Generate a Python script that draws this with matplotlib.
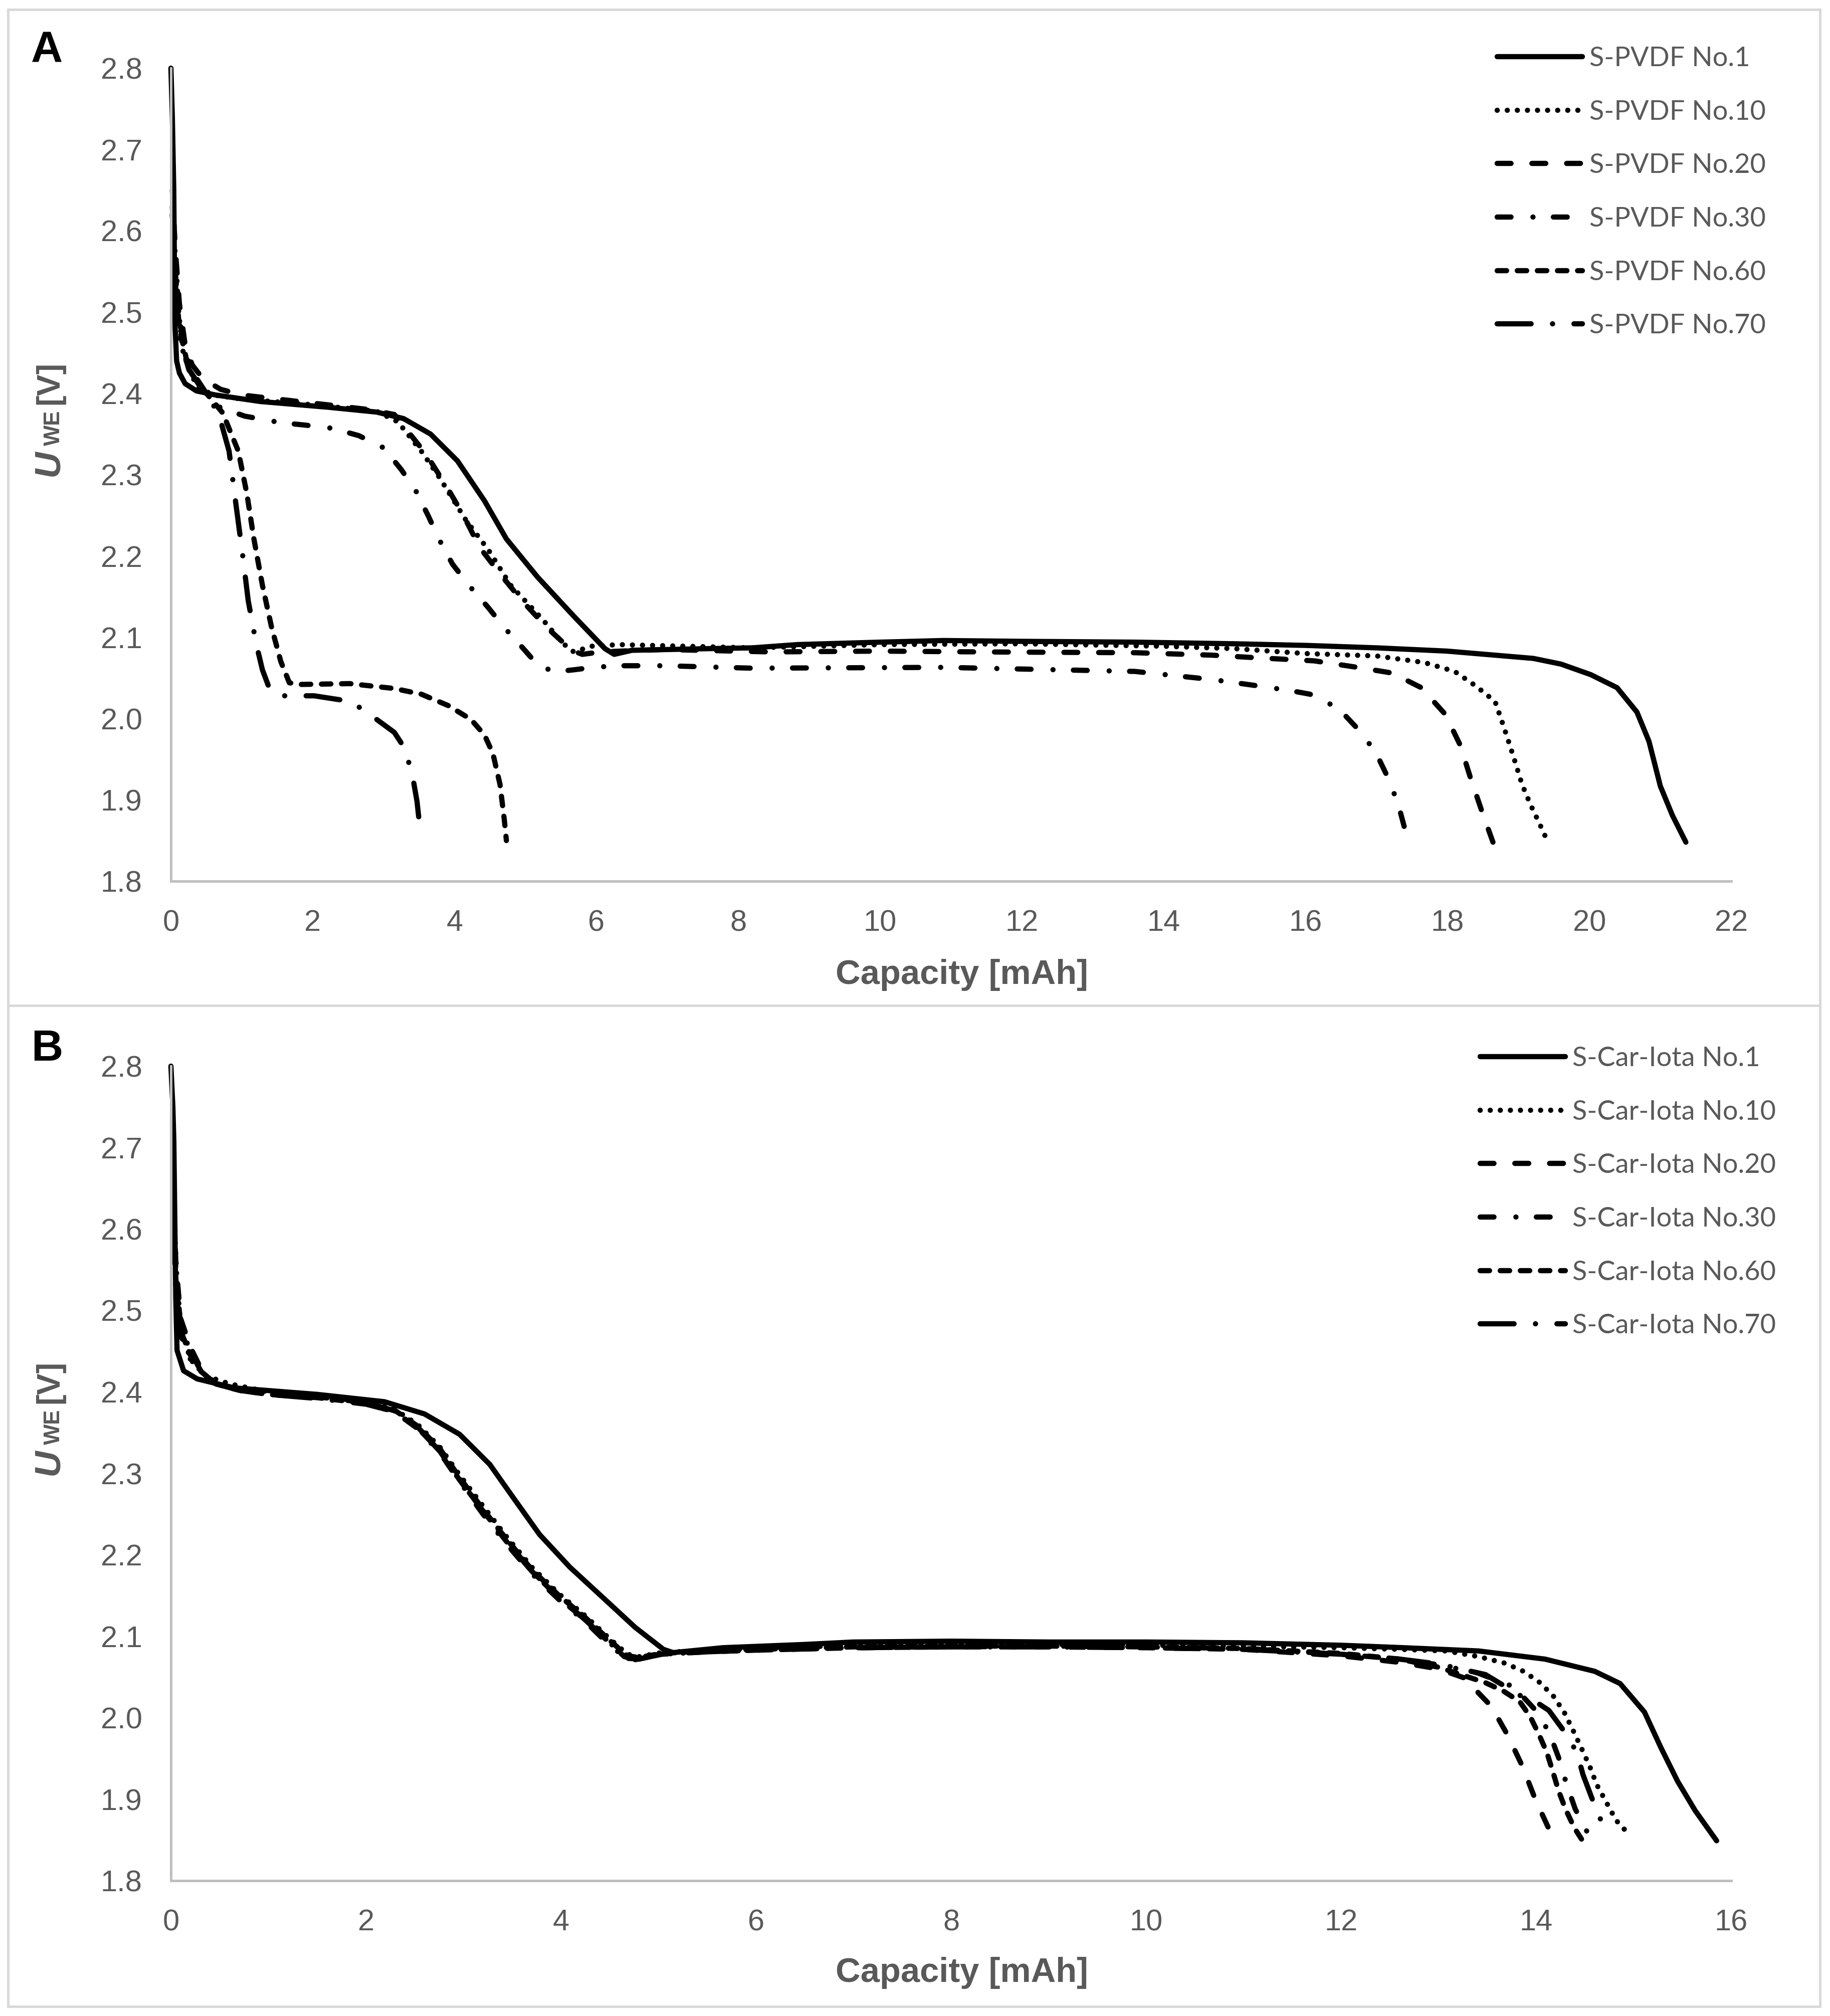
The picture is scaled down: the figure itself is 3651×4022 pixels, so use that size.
#!/usr/bin/env python3
# Discharge curves (U_WE vs capacity) for S-PVDF and S-Car-Iota cells, two panels.

import matplotlib
matplotlib.use("Agg")
import matplotlib.pyplot as plt
from matplotlib.patches import Rectangle

W_PX, H_PX, DPI = 3651, 4022, 300

GRAY_TXT = "#595959"
GRAY_AXIS = "#bfbfbf"
GRAY_BOX = "#d9d9d9"

CYCLES = ["No.1", "No.10", "No.20", "No.30", "No.60", "No.70"]
X_TICKS_A = [0, 2, 4, 6, 8, 10, 12, 14, 16, 18, 20, 22]
X_TICKS_B = [0, 2, 4, 6, 8, 10, 12, 14, 16]
Y_TICKS = [1.8, 1.9, 2.0, 2.1, 2.2, 2.3, 2.4, 2.5, 2.6, 2.7, 2.8]

# ---- panel A : S-PVDF ----
a1_cap = [0, 0.02, 0.04, 0.05, 0.06, 0.08, 0.12, 0.2, 0.36, 0.63, 1.26, 2.21, 2.9, 3.28,
          3.66, 4.04, 4.42, 4.73, 5.17, 5.68, 6.12, 6.25, 6.5, 7.57, 8.2, 8.83, 10.0, 10.89,
          12.0, 13.6, 15.0, 16.0, 17.0, 17.99, 19.21, 19.6, 20.02, 20.39, 20.67, 20.84, 21.0,
          21.17, 21.36]
a1_volt = [2.80, 2.74, 2.65, 2.55, 2.48, 2.44, 2.425, 2.412, 2.403, 2.398, 2.39, 2.383, 2.377,
           2.369, 2.35, 2.317, 2.268, 2.221, 2.174, 2.126, 2.086, 2.079, 2.084, 2.086, 2.087,
           2.091, 2.094, 2.096, 2.095, 2.094, 2.092, 2.09, 2.087, 2.083, 2.074, 2.067, 2.054,
           2.038, 2.008, 1.972, 1.917, 1.881, 1.848]

a10_cap = [0.03, 0.07, 0.11, 0.17, 0.27, 0.39, 0.6, 1.0, 2.0, 2.9, 3.2, 3.53, 3.79, 4.16, 4.48,
           4.79, 5.24, 5.52, 5.68, 5.93, 6.31, 8.2, 10.0, 12.0, 14.0, 15.0, 16.0, 17.0, 17.67,
           18.1, 18.4, 18.67, 18.8, 18.93, 19.05, 19.17, 19.29, 19.4]
a10_volt = [2.60, 2.563, 2.498, 2.452, 2.425, 2.407, 2.398, 2.393, 2.386, 2.378, 2.365, 2.329,
            2.296, 2.244, 2.207, 2.164, 2.122, 2.093, 2.082, 2.089, 2.091, 2.087, 2.091, 2.092,
            2.089, 2.086, 2.080, 2.077, 2.069, 2.058, 2.04, 2.021, 1.988, 1.953, 1.919, 1.894,
            1.872, 1.851]

a20_cap = [0.02, 0.06, 0.12, 0.2, 0.3, 0.45, 0.7, 1.0, 2.0, 2.8, 3.15, 3.6, 3.91, 4.13, 4.35,
           4.64, 4.95, 5.3, 5.65, 5.8, 6.06, 6.94, 8.46, 10.0, 11.43, 13.6, 14.68, 15.27, 16.12,
           16.73, 17.22, 17.63, 17.97, 18.18, 18.32, 18.48, 18.64]
a20_volt = [2.65, 2.58, 2.51, 2.46, 2.435, 2.418, 2.405, 2.398, 2.388, 2.38, 2.374, 2.325, 2.282,
            2.249, 2.211, 2.178, 2.145, 2.112, 2.084, 2.079, 2.082, 2.085, 2.082, 2.083, 2.082,
            2.081, 2.078, 2.075, 2.071, 2.063, 2.056, 2.038, 2.005, 1.967, 1.928, 1.887, 1.848]

a30_cap = [0.02, 0.06, 0.12, 0.2, 0.35, 0.5, 0.69, 1.04, 1.55, 1.89, 2.28, 2.65, 3.0, 3.25, 3.46,
           3.63, 3.79, 3.97, 4.21, 4.47, 4.7, 4.97, 5.2, 5.46, 5.68, 5.95, 6.31, 6.97, 8.19,
           10.89, 12.51, 13.59, 14.68, 15.43, 15.81, 16.06, 16.27, 16.5, 16.77, 16.99, 17.15,
           17.3, 17.42]
a30_volt = [2.62, 2.55, 2.49, 2.45, 2.42, 2.40, 2.383, 2.372, 2.364, 2.361, 2.357, 2.348, 2.333,
            2.306, 2.279, 2.249, 2.219, 2.19, 2.163, 2.137, 2.112, 2.086, 2.063, 2.058, 2.06,
            2.063, 2.065, 2.065, 2.062, 2.063, 2.06, 2.058, 2.048, 2.039, 2.034, 2.030, 2.022,
            2.009, 1.984, 1.958, 1.929, 1.896, 1.857]

a60_cap = [0.02, 0.05, 0.12, 0.25, 0.4, 0.55, 0.73, 0.95, 1.07, 1.17, 1.29, 1.42, 1.55, 1.67,
           1.83, 2.52, 3.15, 3.53, 3.91, 4.23, 4.42, 4.54, 4.64, 4.7, 4.73]
a60_volt = [2.62, 2.55, 2.48, 2.43, 2.41, 2.395, 2.376, 2.329, 2.277, 2.221, 2.164, 2.112, 2.07,
            2.044, 2.042, 2.043, 2.037, 2.03, 2.016, 1.999, 1.98, 1.957, 1.919, 1.876, 1.85]

a70_cap = [0.02, 0.05, 0.12, 0.25, 0.4, 0.55, 0.66, 0.82, 0.91, 1.01, 1.09, 1.2, 1.29, 1.38,
           1.51, 2.02, 2.54, 2.9, 3.15, 3.3, 3.41, 3.47, 3.5]
a70_volt = [2.63, 2.55, 2.47, 2.43, 2.41, 2.39, 2.379, 2.329, 2.268, 2.202, 2.145, 2.093, 2.06,
            2.039, 2.028, 2.028, 2.021, 1.999, 1.983, 1.963, 1.928, 1.898, 1.874]

# ---- panel B : S-Car-Iota ----
b1_cap = [0, 0.02, 0.03, 0.05, 0.063, 0.13, 0.27, 0.65, 1.5, 2.19, 2.6, 2.96, 3.27, 3.5, 3.78,
          4.09, 4.48, 4.76, 5.05, 5.15, 5.66, 6.5, 7.0, 8.0, 9.0, 10.0, 11.0, 12.0, 12.64,
          13.41, 14.09, 14.6, 14.86, 15.11, 15.28, 15.45, 15.63, 15.85]
b1_volt = [2.80, 2.75, 2.707, 2.514, 2.451, 2.426, 2.416, 2.405, 2.397, 2.388, 2.373, 2.348,
           2.311, 2.272, 2.225, 2.185, 2.142, 2.111, 2.084, 2.08, 2.086, 2.09, 2.093, 2.094,
           2.093, 2.093, 2.092, 2.089, 2.086, 2.082, 2.072, 2.057, 2.042, 2.007, 1.963, 1.922,
           1.886, 1.849]

b10_cap = [0.03, 0.06, 0.1, 0.2, 0.35, 0.6, 1.0, 1.5, 2.0, 2.29, 2.53, 2.76, 2.96, 3.2, 3.43,
           3.7, 3.98, 4.25, 4.49, 4.68, 4.8, 5.03, 5.5, 6.0, 7.0, 8.0, 9.0, 10.0, 11.0, 12.0,
           12.6, 13.08, 13.41, 13.68, 13.87, 14.04, 14.18, 14.29, 14.38, 14.47, 14.55, 14.62,
           14.72, 14.82, 14.95]
b10_volt = [2.62, 2.54, 2.48, 2.44, 2.42, 2.41, 2.40, 2.395, 2.388, 2.379, 2.36, 2.332, 2.298,
            2.26, 2.224, 2.185, 2.152, 2.125, 2.098, 2.078, 2.075, 2.08, 2.083, 2.085, 2.089,
            2.09, 2.09, 2.089, 2.088, 2.086, 2.084, 2.082, 2.075, 2.067, 2.057, 2.043, 2.026,
            2.006, 1.984, 1.961, 1.94, 1.918, 1.896, 1.874, 1.857]

b20_cap = [0.02, 0.05, 0.1, 0.2, 0.31, 0.46, 0.7, 1.0, 1.5, 2.0, 2.29, 2.53, 2.76, 2.96, 3.2,
           3.43, 3.7, 3.98, 4.25, 4.49, 4.65, 4.78, 5.03, 5.5, 6.0, 7.0, 8.0, 9.0, 10.0, 11.0,
           12.0, 12.6, 13.0, 13.26, 13.54, 13.71, 13.86, 13.99, 14.14, 14.19]
b20_volt = [2.66, 2.56, 2.49, 2.455, 2.428, 2.41, 2.403, 2.398, 2.394, 2.387, 2.377, 2.357,
            2.327, 2.292, 2.253, 2.218, 2.18, 2.147, 2.12, 2.093, 2.075, 2.072, 2.078, 2.081,
            2.083, 2.086, 2.087, 2.087, 2.086, 2.084, 2.076, 2.068, 2.06, 2.049, 2.014, 1.978,
            1.94, 1.90, 1.861, 1.853]

b30_cap = [0.02, 0.05, 0.1, 0.2, 0.31, 0.46, 0.7, 1.0, 1.5, 2.0, 2.29, 2.53, 2.76, 2.96, 3.2,
           3.43, 3.7, 3.98, 4.25, 4.49, 4.68, 4.75, 5.03, 5.5, 6.0, 7.0, 8.0, 9.0, 10.0, 11.0,
           12.0, 12.6, 13.0, 13.4, 13.77, 13.98, 14.13, 14.23, 14.31, 14.4, 14.53, 14.58]
b30_volt = [2.64, 2.55, 2.48, 2.45, 2.425, 2.41, 2.402, 2.397, 2.393, 2.386, 2.376, 2.355,
            2.325, 2.29, 2.25, 2.215, 2.177, 2.145, 2.118, 2.09, 2.072, 2.071, 2.078, 2.081,
            2.083, 2.086, 2.087, 2.088, 2.087, 2.085, 2.078, 2.072, 2.065, 2.055, 2.038, 2.011,
            1.983, 1.951, 1.919, 1.888, 1.858, 1.85]

b60_cap = [0.02, 0.05, 0.1, 0.2, 0.31, 0.46, 0.7, 1.0, 1.5, 2.0, 2.29, 2.53, 2.76, 2.96, 3.2,
           3.43, 3.7, 3.98, 4.25, 4.49, 4.68, 4.8, 5.03, 5.5, 6.0, 7.0, 8.0, 9.0, 10.0, 11.0,
           12.0, 12.6, 13.0, 13.48, 13.66, 13.83, 13.94, 14.03, 14.11, 14.17, 14.23, 14.3,
           14.39, 14.47]
b60_volt = [2.62, 2.54, 2.475, 2.445, 2.425, 2.41, 2.402, 2.397, 2.393, 2.386, 2.378, 2.358,
            2.33, 2.295, 2.256, 2.221, 2.182, 2.15, 2.123, 2.096, 2.076, 2.074, 2.079, 2.082,
            2.084, 2.087, 2.088, 2.088, 2.087, 2.085, 2.079, 2.072, 2.062, 2.043, 2.033, 2.02,
            2.001, 1.979, 1.957, 1.934, 1.91, 1.888, 1.865, 1.85]

b70_cap = [0.02, 0.05, 0.1, 0.2, 0.31, 0.46, 0.7, 1.0, 1.5, 2.0, 2.29, 2.53, 2.76, 2.96, 3.2,
           3.43, 3.7, 3.98, 4.25, 4.49, 4.68, 4.8, 5.03, 5.5, 6.0, 7.0, 8.0, 9.0, 10.0, 11.0,
           12.0, 12.6, 13.0, 13.48, 13.84, 13.99, 14.13, 14.35, 14.43, 14.48, 14.61, 14.69]
b70_volt = [2.60, 2.53, 2.47, 2.44, 2.425, 2.41, 2.402, 2.397, 2.392, 2.385, 2.376, 2.356,
            2.327, 2.292, 2.254, 2.219, 2.18, 2.148, 2.12, 2.093, 2.073, 2.072, 2.078, 2.081,
            2.083, 2.086, 2.087, 2.087, 2.086, 2.084, 2.078, 2.072, 2.066, 2.053, 2.027, 2.02,
            2.009, 1.973, 1.952, 1.93, 1.889, 1.867]

# Excel-like dash patterns, in units of linewidth (round caps add one lw to each dash)
STYLES = [
    "-",
    (0, (0.01, 1.92)),
    (0, (2.65, 4.0)),
    (0, (2.65, 4.2, 0.01, 3.9)),
    (0, (1.8, 2.05)),
    (0, (6.5, 4.1, 0.01, 4.1)),
]
LW = 2.5


def fx(px):
    return px / W_PX


def fy(py):
    return 1 - py / H_PX


def draw_panel(fig, ax, curves, prefix, xmax, xticks, legend_xy):
    for (cap, volt), cyc, ls in zip(curves, CYCLES, STYLES):
        ax.plot(cap, volt, color="black", lw=LW, linestyle=ls,
                dash_capstyle="round", solid_capstyle="round",
                label=f"{prefix} {cyc}", clip_on=False)

    ax.set_xlim(0, xmax)
    ax.set_ylim(1.8, 2.8)
    ax.set_xticks(xticks)
    ax.set_yticks(Y_TICKS)
    ax.set_yticklabels([f"{v:.1f}" for v in Y_TICKS])

    for side in ["top", "right"]:
        ax.spines[side].set_visible(False)
    for side in ["left", "bottom"]:
        ax.spines[side].set_color(GRAY_AXIS)
        ax.spines[side].set_linewidth(1.2)

    ax.tick_params(length=0, labelsize=14.3, labelcolor=GRAY_TXT)
    ax.tick_params(axis="y", pad=13.8)
    ax.tick_params(axis="x", pad=13.5)

    ax.legend(loc="upper left", bbox_to_anchor=legend_xy,
              bbox_transform=fig.transFigure, frameon=False,
              prop={"family": "Lato", "size": 13}, labelcolor=GRAY_TXT,
              handlelength=3.14, handletextpad=0.25, labelspacing=1.065,
              borderpad=0, borderaxespad=0)


def ylabel_parts(fig, base_y):
    # U (bold italic) + WE subscript + [V], rotated by hand
    fig.text(fx(116), fy(base_y), "U", rotation=90, rotation_mode="anchor",
             ha="left", va="baseline", fontsize=17.5, weight="bold",
             style="italic", color=GRAY_TXT)
    fig.text(fx(119), fy(base_y - 61), "WE", rotation=90, rotation_mode="anchor",
             ha="left", va="baseline", fontsize=10.5, weight="bold", color=GRAY_TXT)
    fig.text(fx(116), fy(base_y - 143), "[V]", rotation=90, rotation_mode="anchor",
             ha="left", va="baseline", fontsize=15.5, weight="bold", color=GRAY_TXT)


def main():
    plt.rcParams["font.family"] = ["Liberation Sans", "DejaVu Sans"]

    fig = plt.figure(figsize=(W_PX / DPI, H_PX / DPI), dpi=DPI, facecolor="white")

    ax_a = fig.add_axes([fx(341), fy(1758), fx(3454) - fx(341), fy(136) - fy(1758)])
    ax_b = fig.add_axes([fx(341), fy(3752), fx(3454) - fx(341), fy(2127) - fy(3752)])

    curves_a = [(a1_cap, a1_volt), (a10_cap, a10_volt), (a20_cap, a20_volt),
                (a30_cap, a30_volt), (a60_cap, a60_volt), (a70_cap, a70_volt)]
    curves_b = [(b1_cap, b1_volt), (b10_cap, b10_volt), (b20_cap, b20_volt),
                (b30_cap, b30_volt), (b60_cap, b60_volt), (b70_cap, b70_volt)]

    draw_panel(fig, ax_a, curves_a, "S-PVDF", 22, X_TICKS_A, (fx(2987), fy(92)))
    draw_panel(fig, ax_b, curves_b, "S-Car-Iota", 16, X_TICKS_B, (fx(2953), fy(2087)))

    # panel frames
    for y0, y1 in [(19, 2006), (2006, 4003)]:
        fig.add_artist(Rectangle((fx(16), fy(y1)), fx(3631) - fx(16), fy(y0) - fy(y1),
                                 transform=fig.transFigure, fill=False,
                                 edgecolor=GRAY_BOX, lw=1.2))

    # panel letters
    fig.text(fx(62), fy(124), "A", fontsize=21, weight="bold", color="black", va="baseline")
    fig.text(fx(62), fy(2116), "B", fontsize=21, weight="bold", color="black", va="baseline")

    # axis titles
    fig.text(fx(1919), fy(1945), "Capacity [mAh]", ha="center", va="center",
             fontsize=16.5, weight="bold", color=GRAY_TXT)
    fig.text(fx(1919), fy(3936), "Capacity [mAh]", ha="center", va="center",
             fontsize=16.5, weight="bold", color=GRAY_TXT)
    ylabel_parts(fig, 950)
    ylabel_parts(fig, 2943)

    fig.savefig("out.png", dpi=DPI, facecolor="white")
    print("[OK] out.png")


if __name__ == "__main__":
    main()
